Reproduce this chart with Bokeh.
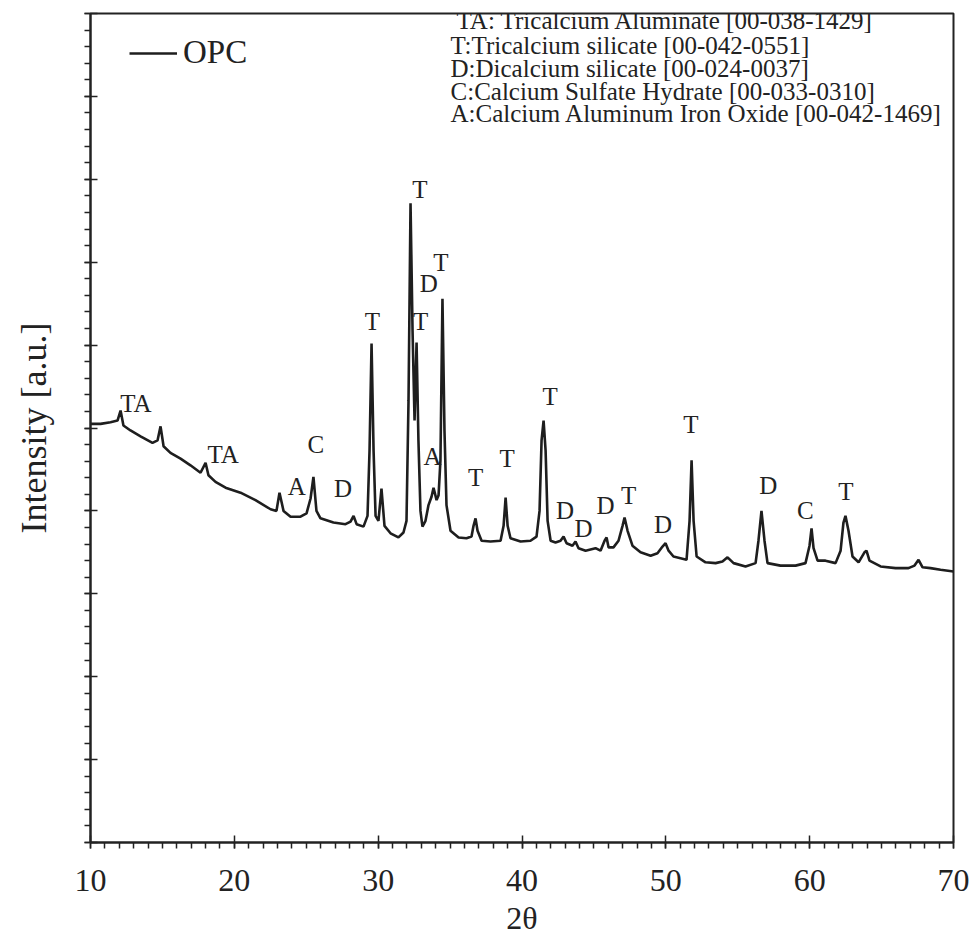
from bokeh.plotting import figure
from bokeh.models import (Range1d, Legend, LegendItem, FixedTicker, ColumnDataSource,
                          CustomLabelingPolicy)
from bokeh.core.properties import value
from bokeh.embed import file_html
from bokeh.resources import INLINE

# ---- data ----
two_theta = [10.00, 10.70, 11.39, 11.88, 12.09, 12.29, 12.78, 13.48, 14.31, 14.66, 14.87, 15.08,
             15.56, 16.26, 16.95, 17.65, 18.00, 18.20, 18.69, 19.39, 20.43, 21.47, 22.52, 22.93,
             23.14, 23.42, 23.91, 24.60, 25.02, 25.30, 25.50, 25.71, 25.99, 26.89, 27.73, 28.08,
             28.29, 28.50, 28.98, 29.26, 29.40, 29.54, 29.68, 29.82, 30.02, 30.23, 30.44, 30.86,
             31.41, 31.76, 31.97, 32.11, 32.25, 32.39, 32.53, 32.67, 32.80, 32.94, 33.08, 33.29,
             33.50, 33.71, 33.85, 34.06, 34.20, 34.33, 34.47, 34.61, 34.75, 35.03, 35.59, 36.14,
             36.49, 36.63, 36.77, 36.91, 37.19, 37.81, 38.51, 38.72, 38.86, 39.00, 39.20, 39.90,
             40.59, 41.01, 41.22, 41.36, 41.50, 41.64, 41.78, 41.99, 42.33, 42.68, 42.89, 43.10,
             43.51, 43.72, 43.93, 44.42, 45.11, 45.46, 45.74, 45.88, 46.02, 46.36, 46.71, 46.99,
             47.13, 47.34, 47.68, 48.24, 48.94, 49.42, 49.77, 49.98, 50.19, 50.53, 51.02, 51.44,
             51.65, 51.79, 51.93, 52.14, 52.76, 53.46, 53.94, 54.29, 54.71, 55.54, 56.24, 56.44,
             56.65, 56.86, 57.07, 57.97, 59.02, 59.71, 59.99, 60.13, 60.27, 60.55, 61.10, 61.80,
             62.15, 62.35, 62.49, 62.70, 62.98, 63.40, 63.81, 63.95, 64.16, 64.93, 65.97, 66.87,
             67.29, 67.57, 67.85, 68.40, 69.10, 70.00]
intensity = [5.05, 5.05, 5.07, 5.09, 5.21, 5.03, 4.97, 4.90, 4.82, 4.85, 5.02, 4.78,
             4.70, 4.63, 4.55, 4.46, 4.58, 4.43, 4.35, 4.28, 4.22, 4.13, 4.02, 4.00,
             4.22, 4.00, 3.93, 3.93, 3.97, 4.15, 4.41, 4.00, 3.91, 3.86, 3.84, 3.87,
             3.94, 3.84, 3.81, 3.94, 4.73, 6.02, 4.73, 3.94, 3.88, 4.27, 3.82, 3.73,
             3.68, 3.74, 3.88, 5.33, 7.71, 6.18, 5.09, 6.03, 4.85, 4.00, 3.81, 3.88,
             4.07, 4.17, 4.28, 4.13, 4.19, 4.61, 6.56, 4.97, 4.07, 3.76, 3.68, 3.67,
             3.69, 3.82, 3.91, 3.76, 3.64, 3.63, 3.64, 3.82, 4.16, 3.82, 3.67, 3.63,
             3.64, 3.69, 4.00, 4.85, 5.09, 4.73, 3.88, 3.64, 3.62, 3.64, 3.69, 3.61,
             3.58, 3.63, 3.55, 3.52, 3.55, 3.52, 3.64, 3.68, 3.56, 3.56, 3.64, 3.82,
             3.92, 3.76, 3.58, 3.50, 3.46, 3.49, 3.57, 3.61, 3.52, 3.45, 3.43, 3.41,
             3.88, 4.61, 3.88, 3.45, 3.38, 3.37, 3.39, 3.44, 3.37, 3.33, 3.37, 3.64,
             4.00, 3.64, 3.37, 3.34, 3.34, 3.37, 3.58, 3.79, 3.55, 3.40, 3.40, 3.37,
             3.52, 3.86, 3.94, 3.76, 3.45, 3.38, 3.50, 3.52, 3.40, 3.33, 3.31, 3.31,
             3.34, 3.41, 3.32, 3.31, 3.29, 3.27]

peak_labels = ["TA", "TA", "A", "C", "D", "T", "T", "T", "D", "T", "A", "T", "T", "T",
               "D", "D", "D", "T", "D", "T", "D", "C", "T"]
peak_x = [13.15, 19.22, 24.35, 25.66, 27.55, 29.60, 32.90, 32.96, 33.52, 34.36, 33.78, 36.77, 38.97, 41.95,
          43.00, 44.28, 45.81, 47.41, 49.80, 51.74, 57.12, 59.70, 62.52]
peak_y = [5.29, 4.68, 4.30, 4.80, 4.27, 6.28, 7.88, 6.28, 6.74, 7.00, 4.66, 4.40, 4.63, 5.38,
          4.00, 3.79, 4.07, 4.19, 3.83, 5.04, 4.31, 4.00, 4.24]

phase_lines = ["TA: Tricalcium Aluminate [00-038-1429]",
               "T:Tricalcium silicate [00-042-0551]",
               "D:Dicalcium silicate [00-024-0037]",
               "C:Calcium Sulfate Hydrate [00-033-0310]",
               "A:Calcium Aluminum Iron Oxide [00-042-1469]"]

x_ticks = [10, 20, 30, 40, 50, 60, 70]
y_ticks = list(range(0, 11))

FONT = "Liberation Serif"
INK = "#222222"

p = figure(width=976, height=940, output_backend="svg", toolbar_location=None,
           x_range=Range1d(10, 70), y_range=Range1d(0, 10),
           min_border_left=90, min_border_right=23, min_border_top=13, min_border_bottom=98)
p.background_fill_color = "white"
p.border_fill_color = "white"
p.outline_line_color = INK
p.outline_line_width = 2
p.grid.visible = False

# x axis
xa = p.xaxis[0]
xa.ticker = FixedTicker(ticks=x_ticks, minor_ticks=[float(v) for v in range(10, 71)])
xa.axis_line_color = INK
xa.axis_line_width = 2
xa.major_tick_in = 7
xa.major_tick_out = 6
xa.minor_tick_in = 0
xa.minor_tick_out = 6
xa.major_tick_line_width = 1.5
xa.minor_tick_line_width = 1.5
xa.major_tick_line_color = INK
xa.minor_tick_line_color = INK
xa.major_label_text_font = FONT
xa.major_label_text_font_size = "32px"
xa.major_label_text_color = INK
xa.major_label_standoff = 21
xa.axis_label = "2θ"
xa.axis_label_text_font = FONT
xa.axis_label_text_font_style = "normal"
xa.axis_label_text_font_size = "32px"
xa.axis_label_text_color = INK
xa.axis_label_standoff = 6

# y axis (ticks only, no tick labels)
ya = p.yaxis[0]
ya.ticker = FixedTicker(ticks=y_ticks,
                        minor_ticks=[round(i * 0.2, 2) for i in range(0, 51)])
ya.axis_line_color = INK
ya.axis_line_width = 2
ya.major_tick_in = 7
ya.major_tick_out = 6
ya.minor_tick_in = 0
ya.minor_tick_out = 6
ya.major_tick_line_width = 1.5
ya.minor_tick_line_width = 1.5
ya.major_tick_line_color = INK
ya.minor_tick_line_color = INK
ya.major_label_policy = CustomLabelingPolicy(
    code="return new indices.constructor(indices.size, 0)")
ya.major_label_standoff = 0
ya.axis_label = "Intensity [a.u.]"
ya.axis_label_text_font = FONT
ya.axis_label_text_font_style = "normal"
ya.axis_label_text_font_size = "36px"
ya.axis_label_text_color = INK
ya.axis_label_standoff = 15

r = p.line(two_theta, intensity, line_color="#1e1e1e", line_width=2.6)

src = ColumnDataSource(dict(x=peak_x, y=peak_y, t=peak_labels))
p.text(x="x", y="y", text="t", source=src, text_font=value(FONT), text_font_size="25px",
       text_align="center", text_baseline="middle", text_color=INK)

line_y = [9.91, 9.61, 9.34, 9.06, 8.79]
line_x = [35.45, 35.03, 35.03, 35.03, 35.03]
src2 = ColumnDataSource(dict(x=line_x, y=line_y, t=phase_lines))
p.text(x="x", y="y", text="t", source=src2, text_font=value(FONT), text_font_size="25px",
       text_align="left", text_baseline="middle", text_color=INK)

legend = Legend(items=[LegendItem(label="OPC", renderers=[r])], location=(39, 771),
                label_text_font=FONT, label_text_font_size="33px", label_text_color=INK,
                glyph_width=48, glyph_height=34, label_height=34, label_standoff=6,
                padding=0, margin=0, spacing=0,
                border_line_alpha=0, background_fill_alpha=0)
p.add_layout(legend)

open("out.html", "w").write(file_html(p, INLINE))
